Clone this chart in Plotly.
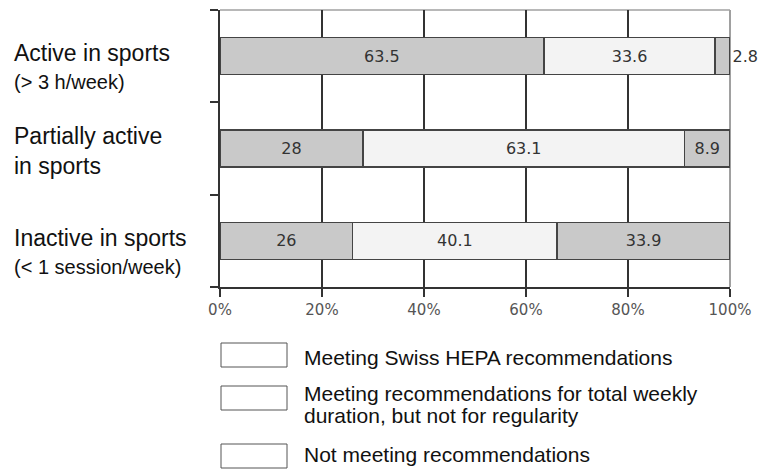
import plotly.graph_objects as go

# ---- data ----
categories = ["Active in sports", "Partially active in sports", "Inactive in sports"]
subtitles = ["(> 3 h/week)", "", "(< 1 session/week)"]
meeting_hepa = [63.5, 28, 26]
meeting_duration = [33.6, 63.1, 40.1]
not_meeting = [2.8, 8.9, 33.9]
x_ticks = [0, 20, 40, 60, 80, 100]
x_tick_labels = ["0%", "20%", "40%", "60%", "80%", "100%"]
legend_labels = [
    "Meeting Swiss HEPA recommendations",
    "Meeting recommendations for total weekly",
    "duration, but not for regularity",
    "Not meeting recommendations",
]

W, H = 763, 470
L, R, T, B = 220, 33, 10, 183
PW, PH = W - L - R, H - T - B

def px_x(px):
    return (px - L) / PW

def px_y(py):
    return (H - B - py) / PH

n = len(categories)
ypos = [n - 1 - i for i in range(n)]

GREY = "#c9c9c9"
LIGHT = "#f3f3f3"
EDGE = "#444444"
LBL = dict(family="DejaVu Sans", size=16, color="#333333")

fig = go.Figure()
fig.add_trace(go.Bar(
    y=ypos, x=meeting_hepa, orientation="h", width=0.4,
    marker=dict(color=GREY, line=dict(color=EDGE, width=1.5)),
    text=[str(v) for v in meeting_hepa], textposition="inside",
    insidetextanchor="middle", textangle=0, textfont=LBL,
    name=legend_labels[0], showlegend=False, cliponaxis=False,
))
fig.add_trace(go.Bar(
    y=ypos, x=meeting_duration, orientation="h", width=0.4,
    marker=dict(color=LIGHT, line=dict(color=EDGE, width=1.5)),
    text=[str(v) for v in meeting_duration], textposition="inside",
    insidetextanchor="middle", textangle=0, textfont=LBL,
    name=legend_labels[1], showlegend=False, cliponaxis=False,
))
fig.add_trace(go.Bar(
    y=ypos, x=not_meeting, orientation="h", width=0.4,
    marker=dict(color=GREY, line=dict(color=EDGE, width=1.5)),
    text=[str(v) for v in not_meeting],
    textposition=["outside" if v < 5 else "inside" for v in not_meeting],
    insidetextanchor="middle", textangle=0, textfont=LBL,
    name=legend_labels[3], showlegend=False, cliponaxis=False,
))

annotations = []
main_font = dict(family="Liberation Sans, Arial", size=23, color="#111111")
sub_font = dict(family="Liberation Sans, Arial", size=20, color="#111111")
label_x = px_x(12)
for i, cat in enumerate(categories):
    if subtitles[i]:
        annotations.append(dict(x=label_x, y=ypos[i], xref="paper", yref="y",
                                text=cat, showarrow=False, xanchor="left",
                                yanchor="middle", yshift=3, font=main_font))
        annotations.append(dict(x=label_x, y=ypos[i], xref="paper", yref="y",
                                text=subtitles[i], showarrow=False, xanchor="left",
                                yanchor="middle", yshift=-26, font=sub_font))
    else:
        words = cat.split(" in ")
        annotations.append(dict(x=label_x, y=ypos[i], xref="paper", yref="y",
                                text=words[0] + "<br>in " + words[1], showarrow=False,
                                xanchor="left", align="left", yanchor="middle",
                                yshift=-2, font=main_font))

# legend (custom, boxes + text)
leg_font = dict(family="Liberation Sans, Arial", size=21, color="#111111")
boxes = [(343, 367), (386, 410), (444, 468)]
text_rows = [357, 393, 415, 454]
shapes = []
for (y0, y1) in boxes:
    shapes.append(dict(type="rect", xref="paper", yref="paper",
                       x0=px_x(221), x1=px_x(287), y0=px_y(y1), y1=px_y(y0),
                       line=dict(color="#555555", width=1), fillcolor="white"))
for lbl, yc in zip(legend_labels, text_rows):
    annotations.append(dict(x=px_x(302), y=px_y(yc), xref="paper", yref="paper",
                            text=lbl, showarrow=False, xanchor="left",
                            yanchor="middle", font=leg_font))

# frame: light top and right borders
shapes.append(dict(type="line", xref="paper", yref="paper", x0=0, x1=1, y0=1, y1=1,
                   line=dict(color="#a0a0a0", width=1.5), layer="between"))
shapes.append(dict(type="line", xref="paper", yref="paper", x0=1, x1=1, y0=0, y1=1,
                   line=dict(color="#a0a0a0", width=2), layer="between"))

fig.update_layout(
    width=W, height=H,
    margin=dict(l=L, r=R, t=T, b=B, pad=0),
    paper_bgcolor="white", plot_bgcolor="white",
    barmode="stack", bargap=0.6,
    showlegend=False,
    annotations=annotations, shapes=shapes,
    xaxis=dict(range=[0, 100], tickvals=x_ticks, ticktext=x_tick_labels,
               ticks="outside", ticklen=8, tickcolor="#333333", tickwidth=1.5,
               showline=True, linecolor="#333333", linewidth=1.5,
               showgrid=True, gridcolor="#333333", gridwidth=1.5,
               zeroline=False, fixedrange=True,
               tickfont=dict(family="DejaVu Sans", size=15, color="#555555")),
    yaxis=dict(range=[-0.5, n - 0.5], tickvals=[k - 0.5 for k in range(n + 1)],
               showticklabels=False, ticks="outside", ticklen=8,
               tickcolor="#333333", tickwidth=1.5,
               showline=True, linecolor="#333333", linewidth=1.5,
               showgrid=False, zeroline=False, fixedrange=True),
)

fig.write_html("out.html", config={"displayModeBar": False},
               post_script="document.body.style.margin='0';document.body.style.overflow='hidden';")
